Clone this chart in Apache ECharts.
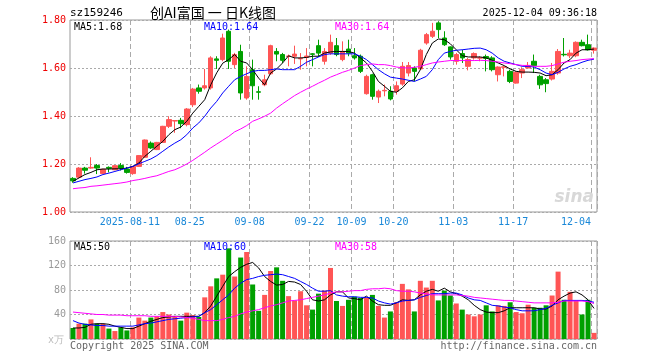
<!DOCTYPE html>
<html><head><meta charset="utf-8">
<script src="https://cdn.jsdelivr.net/npm/echarts@6/dist/echarts.min.js"></script>
<style>html,body{margin:0;padding:0;background:#fff}#c{width:660px;height:360px}</style>
</head><body><div id="c"></div>
<script>
const dates = [
'2025-07-28','2025-07-29','2025-07-30','2025-07-31','2025-08-01',
'2025-08-04','2025-08-05','2025-08-06','2025-08-07','2025-08-08',
'2025-08-11','2025-08-12','2025-08-13','2025-08-14','2025-08-15',
'2025-08-18','2025-08-19','2025-08-20','2025-08-21','2025-08-22',
'2025-08-25','2025-08-26','2025-08-27','2025-08-28','2025-08-29',
'2025-09-01','2025-09-02','2025-09-03','2025-09-04','2025-09-05',
'2025-09-08','2025-09-09','2025-09-10','2025-09-11','2025-09-12',
'2025-09-15','2025-09-16','2025-09-17','2025-09-18','2025-09-19',
'2025-09-22','2025-09-23','2025-09-24','2025-09-25','2025-09-26',
'2025-09-29','2025-09-30','2025-10-09','2025-10-10',
'2025-10-13','2025-10-14','2025-10-15','2025-10-16','2025-10-17',
'2025-10-20','2025-10-21','2025-10-22','2025-10-23','2025-10-24',
'2025-10-27','2025-10-28','2025-10-29','2025-10-30','2025-10-31',
'2025-11-03','2025-11-04','2025-11-05','2025-11-06','2025-11-07',
'2025-11-10','2025-11-11','2025-11-12','2025-11-13','2025-11-14',
'2025-11-17','2025-11-18','2025-11-19','2025-11-20','2025-11-21',
'2025-11-24','2025-11-25','2025-11-26','2025-11-27','2025-11-28',
'2025-12-01','2025-12-02','2025-12-03','2025-12-04'];

const opens = [
1.140,1.145,1.183,1.183,1.194,1.160,1.186,1.176,1.194,1.179,
1.160,1.190,1.228,1.287,1.260,1.290,1.357,1.379,1.382,1.364,
1.447,1.517,1.517,1.517,1.638,1.635,1.753,1.614,1.669,1.475,
1.593,1.501,1.530,1.576,1.669,1.656,1.648,1.649,1.638,1.644,
1.659,1.693,1.628,1.662,1.693,1.635,1.679,1.651,1.649,1.493,
1.572,1.479,1.505,1.503,1.503,1.533,1.579,1.600,1.596,1.704,
1.732,1.788,1.725,1.688,1.628,1.660,1.607,1.642,1.641,1.648,
1.642,1.572,1.603,1.586,1.537,1.579,1.600,1.628,1.565,1.551,
1.554,1.579,1.657,1.651,1.651,1.707,1.697,1.674];
const closes = [
1.130,1.183,1.174,1.186,1.183,1.178,1.182,1.193,1.183,1.165,
1.190,1.235,1.300,1.267,1.290,1.357,1.385,1.381,1.368,1.429,
1.512,1.503,1.526,1.642,1.632,1.725,1.628,1.656,1.496,1.565,
1.526,1.499,1.551,1.693,1.658,1.632,1.650,1.658,1.640,1.650,
1.657,1.662,1.669,1.707,1.656,1.669,1.662,1.642,1.586,1.565,
1.482,1.503,1.507,1.471,1.526,1.607,1.610,1.586,1.674,1.739,
1.753,1.760,1.697,1.646,1.656,1.642,1.635,1.660,1.643,1.640,
1.593,1.604,1.605,1.544,1.582,1.593,1.611,1.610,1.530,1.535,
1.586,1.669,1.655,1.662,1.707,1.693,1.676,1.683];
const lows = [
1.122,1.140,1.160,1.180,1.158,1.158,1.165,1.174,1.173,1.160,
1.155,1.188,1.226,1.263,1.258,1.288,1.350,1.330,1.349,1.357,
1.437,1.493,1.510,1.510,1.596,1.628,1.596,1.600,1.468,1.468,
1.468,1.468,1.524,1.572,1.628,1.621,1.607,1.617,1.593,1.607,
1.607,1.646,1.614,1.655,1.649,1.628,1.649,1.635,1.579,1.489,
1.468,1.454,1.482,1.465,1.489,1.526,1.565,1.544,1.593,1.697,
1.725,1.725,1.692,1.635,1.614,1.621,1.590,1.635,1.628,1.586,
1.586,1.544,1.565,1.537,1.535,1.558,1.600,1.579,1.513,1.499,
1.548,1.572,1.648,1.641,1.645,1.690,1.673,1.660];
const highs = [
1.145,1.187,1.188,1.228,1.200,1.180,1.190,1.195,1.204,1.188,
1.192,1.237,1.302,1.294,1.292,1.359,1.399,1.381,1.392,1.433,
1.517,1.531,1.596,1.649,1.649,1.743,1.760,1.663,1.697,1.607,
1.635,1.524,1.572,1.697,1.683,1.663,1.656,1.693,1.662,1.683,
1.662,1.718,1.683,1.739,1.725,1.711,1.718,1.683,1.656,1.572,
1.576,1.510,1.531,1.524,1.544,1.625,1.625,1.607,1.680,1.746,
1.788,1.795,1.753,1.690,1.663,1.676,1.642,1.665,1.649,1.656,
1.649,1.607,1.607,1.593,1.586,1.603,1.625,1.656,1.572,1.558,
1.621,1.679,1.725,1.676,1.711,1.718,1.739,1.686];
const volumes = [
18,25,25,32,25,25,17,13,19,14,
19,35,30,35,37,44,40,37,30,43,
39,36,68,86,99,105,148,102,133,142,
89,46,72,111,117,95,70,63,78,55,
48,74,79,116,62,54,64,69,67,68,
72,54,35,45,60,90,81,45,95,84,
95,63,79,71,58,48,40,37,40,55,
45,55,54,60,44,42,56,51,51,55,
71,110,64,77,62,40,64,10];
const ma5 = [
1.128,1.142,1.156,1.165,1.176,1.179,1.179,1.180,1.180,1.183,
1.190,1.204,1.232,1.253,1.274,1.294,1.322,1.343,1.354,1.378,
1.412,1.440,1.468,1.530,1.580,1.620,1.635,1.656,1.628,1.621,
1.593,1.558,1.530,1.579,1.596,1.621,1.651,1.642,1.642,1.644,
1.649,1.649,1.662,1.667,1.669,1.669,1.669,1.662,1.642,1.621,
1.586,1.544,1.524,1.503,1.499,1.517,1.544,1.551,1.593,1.656,
1.704,1.721,1.718,1.701,1.676,1.651,1.646,1.646,1.646,1.642,
1.632,1.621,1.610,1.596,1.586,1.583,1.583,1.582,1.579,1.568,
1.572,1.593,1.621,1.635,1.662,1.676,1.676,1.679];
const ma10 = [
1.121,1.128,1.135,1.140,1.146,1.156,1.162,1.169,1.176,1.183,
1.190,1.201,1.211,1.221,1.235,1.253,1.271,1.287,1.301,1.322,
1.350,1.371,1.399,1.433,1.461,1.496,1.524,1.551,1.565,1.576,
1.586,1.590,1.590,1.593,1.596,1.593,1.593,1.593,1.607,1.624,
1.635,1.646,1.656,1.659,1.659,1.659,1.659,1.659,1.649,1.635,
1.614,1.593,1.576,1.562,1.558,1.554,1.549,1.544,1.554,1.565,
1.593,1.635,1.662,1.669,1.674,1.676,1.679,1.682,1.683,1.676,
1.662,1.642,1.628,1.621,1.614,1.607,1.607,1.604,1.593,1.579,
1.572,1.582,1.596,1.607,1.614,1.624,1.632,1.637];
const ma30 = [
1.097,1.100,1.102,1.107,1.109,1.112,1.115,1.118,1.121,1.125,
1.131,1.135,1.140,1.146,1.151,1.160,1.169,1.176,1.187,1.200,
1.215,1.232,1.249,1.267,1.283,1.299,1.315,1.334,1.346,1.360,
1.378,1.388,1.399,1.412,1.433,1.451,1.468,1.485,1.499,1.512,
1.524,1.537,1.549,1.562,1.572,1.582,1.590,1.600,1.610,1.614,
1.617,1.614,1.614,1.610,1.604,1.601,1.600,1.603,1.607,1.614,
1.621,1.625,1.628,1.631,1.631,1.631,1.631,1.631,1.632,1.631,
1.628,1.625,1.621,1.618,1.614,1.611,1.610,1.607,1.607,1.607,
1.610,1.617,1.624,1.628,1.631,1.635,1.637,1.639];
const vma5 = [
18,18,19,24,25,25,24,21,19,17,
17,21,25,29,32,35,36,37,37,37,
37,37,43,54,70,86,102,110,117,122,
125,116,102,94,88,89,94,93,89,78,
64,62,64,72,77,77,67,66,64,70,
62,56,55,55,59,64,63,64,72,78,
81,78,83,77,74,70,64,55,48,44,
43,43,46,51,51,51,51,51,49,49,
54,64,70,75,77,72,64,50];
const vma10 = [
30,26,24,23,22,22,21,21,21,21,
21,23,25,26,28,30,32,33,34,35,
36,37,43,48,56,64,72,83,91,97,
99,102,104,105,106,105,102,99,94,89,
83,78,78,79,72,70,69,69,68,68,
67,62,59,57,59,62,63,64,68,71,
74,74,74,75,75,72,67,64,63,59,
55,54,52,51,48,46,46,46,48,50,
55,59,63,63,63,63,62,60];
const vma30 = [
44,43,42,41,40,40,39,39,39,38,
38,38,38,37,37,37,37,37,36,35,
34,32,30,30,30,32,35,37,41,44,
46,48,51,54,56,59,62,63,64,66,
68,70,72,75,77,77,78,79,79,81,
82,82,83,82,79,78,78,77,75,74,
72,72,72,72,72,71,70,68,67,66,
65,64,63,63,62,61,60,59,59,59,
59,60,62,62,62,62,61,58];
const tickIdx = [10,20,30,40,47,54,64,74,87];
const tickLabels = ['2025-08-11','08-25','09-08','09-22','10-09','10-20','11-03','11-17','12-04'];
const priceTicks = [1.00,1.20,1.40,1.60,1.80];
const volTicks = [0,40,80,120,160];

const UP = '#ff5555', DOWN = '#00a000';
const MONO = 'DejaVu Sans Mono';
const kData = opens.map((o,i)=>[o, closes[i], lows[i], highs[i]]);
const vData = volumes.map((v,i)=>({value:v, itemStyle:{color: closes[i]>=opens[i]?UP:DOWN}}));
const showTick = (i)=>tickIdx.indexOf(i)>=0;
const lastIdx = dates.length-1;

const chart = echarts.init(document.getElementById('c'), null, {renderer:'canvas'});
const xBase = {
  type:'category', data:dates, boundaryGap:true,
  axisLine:{show:false}, axisTick:{show:false},
  splitLine:{show:true, interval:(i)=>showTick(i), lineStyle:{color:'#aaa', type:[5,3], width:1}}
};
const yBase = {
  axisLine:{show:false}, axisTick:{show:false},
  splitLine:{show:true, lineStyle:{color:'#aaa', type:[2,2], width:1}}
};
const txt = (t,x,y,color,opts)=>Object.assign({type:'text', z:100, style:Object.assign({text:t, x:x, y:y, fill:color, font:'10px "'+MONO+'"', textVerticalAlign:'middle', textAlign:'left'}, opts||{})});

chart.setOption({
  animation:false,
  backgroundColor:'#fff',
  grid:[
    {left:70, top:20, width:527, height:192, show:true, borderColor:'#999', borderWidth:1, backgroundColor:'transparent'},
    {left:70, top:241, width:527, height:98, show:true, borderColor:'#999', borderWidth:1, backgroundColor:'transparent'}
  ],
  xAxis:[
    Object.assign({}, xBase, {gridIndex:0,
      axisLabel:{show:true, interval:(i)=>showTick(i), margin:5,
        formatter:(v,i)=>{const k=tickIdx.indexOf(i); return k===tickIdx.length-1 ? '{e|'+tickLabels[k]+'}' : '{n|'+tickLabels[k]+'}';},
        rich:{
          n:{fontFamily:MONO, fontSize:10, color:'#1a88d8', padding:[0,6,0,0]},
          e:{fontFamily:MONO, fontSize:10, color:'#1a88d8', padding:[0,36,0,0]}
        }}}),
    Object.assign({}, xBase, {gridIndex:1, axisLabel:{show:false}})
  ],
  yAxis:[
    Object.assign({}, yBase, {gridIndex:0, type:'value', min:priceTicks[0], max:priceTicks[priceTicks.length-1], interval:0.2,
      axisLabel:{margin:4, color:'#ee0000', fontFamily:MONO, fontSize:10, formatter:(v)=>v.toFixed(2)}}),
    Object.assign({}, yBase, {gridIndex:1, type:'value', min:volTicks[0], max:volTicks[volTicks.length-1], interval:40,
      axisLabel:{margin:4, color:'#999', fontFamily:MONO, fontSize:10, formatter:(v)=>v===0?'':String(v)}})
  ],
  series:[
    {type:'candlestick', xAxisIndex:0, yAxisIndex:0, data:kData, barWidth:5,
      itemStyle:{color:UP, color0:DOWN, borderColor:UP, borderColor0:DOWN, borderWidth:1}},
    {type:'line', xAxisIndex:0, yAxisIndex:0, data:ma5, symbol:'none', lineStyle:{color:'#000', width:1}},
    {type:'line', xAxisIndex:0, yAxisIndex:0, data:ma10, symbol:'none', lineStyle:{color:'#0000ff', width:1}},
    {type:'line', xAxisIndex:0, yAxisIndex:0, data:ma30, symbol:'none', lineStyle:{color:'#ff00ff', width:1}},
    {type:'bar', xAxisIndex:1, yAxisIndex:1, data:vData, barWidth:5},
    {type:'line', xAxisIndex:1, yAxisIndex:1, data:vma5, symbol:'none', lineStyle:{color:'#000', width:1}},
    {type:'line', xAxisIndex:1, yAxisIndex:1, data:vma10, symbol:'none', lineStyle:{color:'#0000ff', width:1}},
    {type:'line', xAxisIndex:1, yAxisIndex:1, data:vma30, symbol:'none', lineStyle:{color:'#ff00ff', width:1}}
  ],
  graphic:[
    txt('sz159246', 70, 13, '#000', {font:'11px "'+MONO+'"'}),
    txt('创AI富国 一 日K线图', 213, 13, '#000', {textAlign:'center', font:'14px "Noto Sans CJK SC"'}),
    txt('2025-12-04 09:36:18', 597, 13, '#000', {textAlign:'right', font:'10px "'+MONO+'"'}),
    txt('MA5:'+ma5[lastIdx].toFixed(2), 74, 27, '#000'),
    txt('MA10:'+ma10[lastIdx].toFixed(2), 204, 27, '#0000ff'),
    txt('MA30:'+ma30[lastIdx].toFixed(2), 335, 27, '#ff00ff'),
    txt('MA5:'+Math.round(vma5[lastIdx]), 74, 247, '#000'),
    txt('MA10:'+Math.round(vma10[lastIdx]), 204, 247, '#0000ff'),
    txt('MA30:'+Math.round(vma30[lastIdx]), 335, 247, '#ff00ff'),
    txt('x万', 48, 340, '#bbb'),
    txt('Copyright 2025 SINA.COM', 70, 346, '#666'),
    txt('http://finance.sina.com.cn', 597, 346, '#666', {textAlign:'right'}),
    txt('sina', 594, 198, '#d8d8d8', {textAlign:'right', font:'italic bold 17px "DejaVu Sans"'})
  ]
});
</script></body></html>
